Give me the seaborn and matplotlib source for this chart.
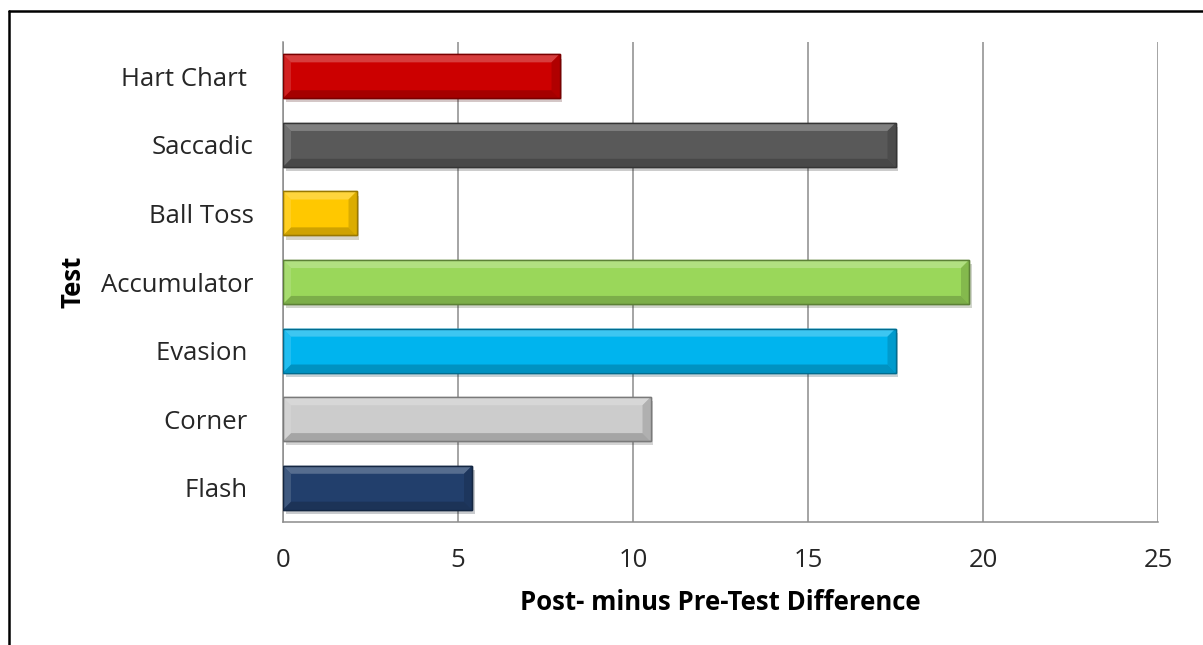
import matplotlib
matplotlib.use("Agg")
import matplotlib.pyplot as plt
from matplotlib.patches import Polygon
from matplotlib.lines import Line2D
import matplotlib.patheffects as pe
import matplotlib.colors as mcolors
import seaborn as sns
import pandas as pd

# Test names (top to bottom) and their post- minus pre-test differences
tests = ["Hart Chart ", "Saccadic", "Ball Toss", "Accumulator", "Evasion ", "Corner ", "Flash "]
differences = [7.9, 17.5, 2.1, 19.6, 17.5, 10.5, 5.4]
bar_colors = ["#CC0000", "#595959", "#FFC800", "#9AD75A", "#00B4EE", "#CCCCCC", "#223F6C"]

df = pd.DataFrame({"Test": tests, "Difference": differences})

sns.set_theme(style="white")
plt.rcParams["font.family"] = ["Open Sans", "DejaVu Sans"]

fig = plt.figure(figsize=(12.03, 6.45), dpi=100)
ax = fig.add_axes([283 / 1203, 1 - 522 / 645, 875 / 1203, 480 / 645])

sns.barplot(data=df, x="Difference", y="Test", hue="Test", palette=bar_colors,
            legend=False, width=0.64, ax=ax, saturation=1, orient="h", zorder=3)

ax.set_xlim(0, 25)
ax.set_xticks([0, 5, 10, 15, 20, 25])
ax.grid(axis="x", color="#8C8C8C", linewidth=1.1, zorder=0)
ax.set_axisbelow(True)
for s in ["top", "right"]:
    ax.spines[s].set_visible(False)
for s in ["left", "bottom"]:
    ax.spines[s].set_color("#8C8C8C")
    ax.spines[s].set_linewidth(1.1)
ax.tick_params(axis="both", length=0, labelsize=18.5, colors="#262626")
ax.tick_params(axis="y", pad=21)
ax.tick_params(axis="x", pad=19)
ax.set_xlabel("Post- minus Pre-Test Difference", fontsize=18.5, fontweight="bold",
              color="black", labelpad=11)
ax.set_ylabel("Test", fontsize=18.5, fontweight="bold", color="black", labelpad=11)

# bevelled look: lighter top band, darker bottom band and sides, soft shadow
px_x = 25 / 875
px_y = 7 / 480
bev = 8
for patch in ax.patches:
    x0, y0 = patch.get_x(), patch.get_y()
    w, h = patch.get_width(), patch.get_height()
    base = mcolors.to_rgb(patch.get_facecolor())
    light = tuple(min(1, c + (1 - c) * 0.3) for c in base)
    dark = tuple(c * 0.75 for c in base)
    edge = tuple(c * 0.6 for c in base)
    patch.set_edgecolor(edge)
    patch.set_linewidth(1.0)
    patch.set_path_effects([pe.SimplePatchShadow(offset=(2, -3), alpha=0.22), pe.Normal()])
    bx, by = bev * px_x, bev * px_y
    y_top, y_bot = y0, y0 + h  # inverted y axis: y0 is the upper edge
    top = Polygon([(x0, y_top), (x0 + w, y_top), (x0 + w - bx, y_top + by), (x0 + bx, y_top + by)],
                  closed=True, facecolor=light, edgecolor="none", zorder=4, alpha=0.8)
    bottom = Polygon([(x0, y_bot), (x0 + w, y_bot), (x0 + w - bx, y_bot - by), (x0 + bx, y_bot - by)],
                     closed=True, facecolor=dark, edgecolor="none", zorder=4, alpha=0.75)
    right = Polygon([(x0 + w, y_top), (x0 + w, y_bot), (x0 + w - bx, y_bot - by), (x0 + w - bx, y_top + by)],
                    closed=True, facecolor=dark, edgecolor="none", zorder=4, alpha=0.55)
    left = Polygon([(x0, y_top), (x0, y_bot), (x0 + bx, y_bot - by), (x0 + bx, y_top + by)],
                   closed=True, facecolor=light, edgecolor="none", zorder=4, alpha=0.45)
    for p in (top, bottom, right, left):
        ax.add_patch(p)
    ax.add_patch(plt.Rectangle((x0, y0), w, h, facecolor="none", edgecolor=edge,
                               linewidth=1.0, zorder=5))

# outer chart frame
fig.add_artist(Line2D([9 / 1203, 1.0], [1 - 11 / 645, 1 - 11 / 645], color="black",
                      linewidth=1.8, transform=fig.transFigure))
fig.add_artist(Line2D([9 / 1203, 9 / 1203], [0.0, 1 - 11 / 645], color="black",
                      linewidth=1.8, transform=fig.transFigure))

fig.savefig("out.png", dpi=100)
